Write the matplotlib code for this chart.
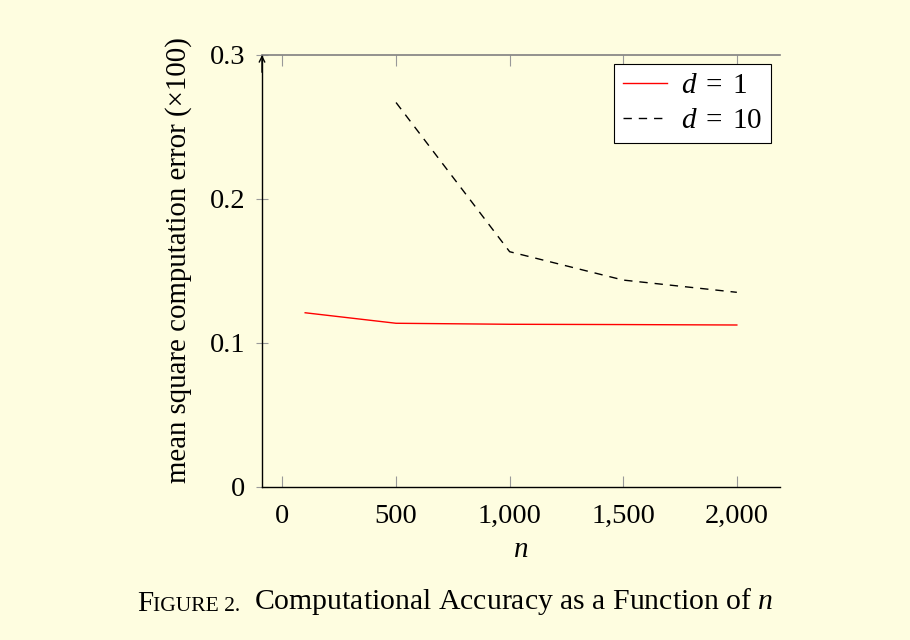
import matplotlib
matplotlib.use("Agg")
import matplotlib.pyplot as plt
from matplotlib.ticker import FuncFormatter

plt.rcParams['font.family'] = ['Liberation Serif', 'DejaVu Serif']
plt.rcParams['mathtext.fontset'] = 'custom'
plt.rcParams['mathtext.rm'] = 'Liberation Serif'
plt.rcParams['mathtext.it'] = 'Liberation Serif:italic'

# data
n_d1 = [100, 500, 1000, 1500, 2000]
err_d1 = [0.121, 0.1137, 0.113, 0.1128, 0.1125]
n_d10 = [500, 1000, 1500, 2000]
err_d10 = [0.267, 0.1634, 0.1437, 0.1352]
x_ticks = [0, 500, 1000, 1500, 2000]
y_ticks = [0, 0.1, 0.2, 0.3]

bg = '#fefde0'
fs = 20.5

fig = plt.figure(figsize=(9.1, 6.4), dpi=100, facecolor=bg)
ax = fig.add_axes([262/910, 1 - 487/640, (780 - 262)/910, (487 - 55)/640])
ax.set_facecolor(bg)

ax.plot(n_d1, err_d1, color='red', lw=1, label='$d\\;=\\;1$')
ax.plot(n_d10, err_d10, color='black', lw=1, dashes=(6, 5), label='$d\\;=\\;10$')

ax.set_xlim(-90, 2190)
ax.set_ylim(0, 0.3)
ax.set_xticks(x_ticks)
ax.set_yticks(y_ticks)
ax.xaxis.set_major_formatter(FuncFormatter(lambda v, p: f'{int(v):,}'))
ax.yaxis.set_major_formatter(FuncFormatter(lambda v, p: '0' if v == 0 else f'{v:.1f}'))

ax.spines['right'].set_visible(False)
ax.spines['top'].set_color('#808080')
ax.spines['top'].set_linewidth(1.2)
ax.spines['left'].set_linewidth(1.0)
ax.spines['bottom'].set_linewidth(1.0)

ax.tick_params(axis='x', direction='in', top=True, bottom=True, length=8,
               width=0.8, color='#999999', labelsize=fs, pad=12)
ax.tick_params(axis='y', direction='inout', left=True, right=False, length=8,
               width=0.8, color='#999999', labelsize=fs, pad=8)

# arrow at top of y axis
ax.annotate('', xy=(0, 1.0), xytext=(0, 0.96), xycoords='axes fraction',
            arrowprops=dict(arrowstyle='->', lw=1.0, color='black',
                            shrinkA=0, shrinkB=0))

ax.set_xlabel('$n$', fontsize=21, labelpad=6)
ax.set_ylabel('mean square computation error (×100)', fontsize=20.8, labelpad=13)
ax.yaxis.label.set_y(0.525)

leg = ax.legend(loc='upper right', fontsize=21, frameon=True, fancybox=False,
                framealpha=1, edgecolor='black', handlelength=1.5,
                borderaxespad=0.3, borderpad=0.3, labelspacing=0.3,
                handletextpad=0.5)
leg.get_frame().set_linewidth(0.8)

# caption with small caps "Figure"
t1 = fig.text(137/910, 1 - 611/640, 'F', fontsize=21, ha='left', va='baseline')
t2 = ax.annotate('IGURE 2.', xy=(1, 0), xycoords=t1, xytext=(0, 1.0),
                 textcoords='offset points', fontsize=15.5, ha='left', va='bottom',
                 annotation_clip=False)
t3 = ax.annotate('Computational Accuracy as a Function of $n$', xy=(1, 0),
                 xycoords=t2, xytext=(10, -1.0), textcoords='offset points',
                 fontsize=21.4, ha='left', va='bottom', annotation_clip=False)

fig.savefig('out.png', dpi=100, facecolor=bg)
